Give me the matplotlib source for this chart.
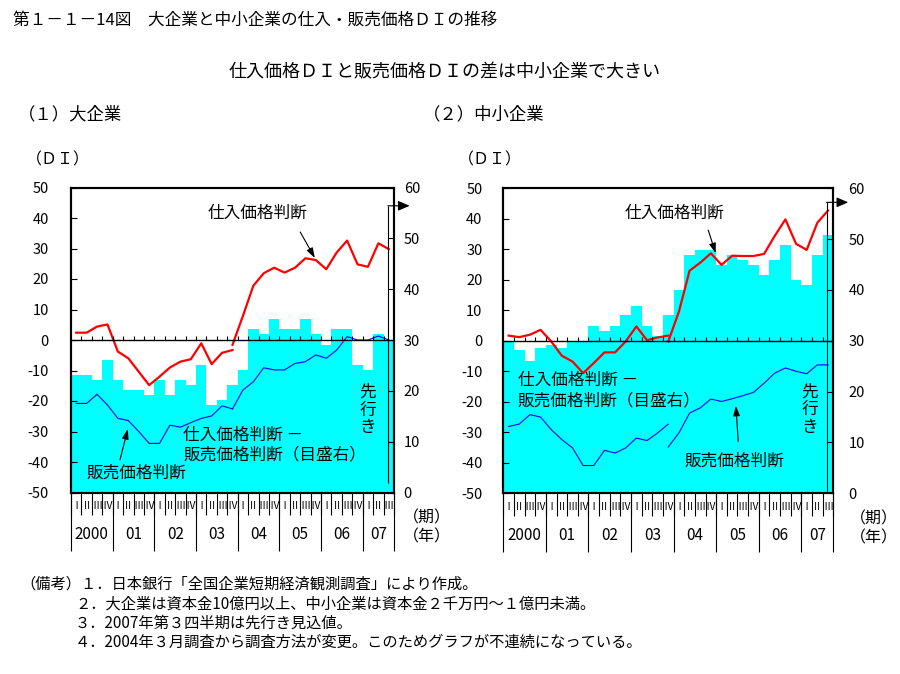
import matplotlib
matplotlib.use('Agg')
import matplotlib.pyplot as plt
import numpy as np

plt.rcParams['font.family'] = ['Noto Sans CJK JP', 'DejaVu Sans']
plt.rcParams['axes.unicode_minus'] = False

#### DATA ####
# 2000 Q1 ... 2007 Q3 (31 quarters); survey method changed from 2003 Q4 on
years = ['2000', '01', '02', '03', '04', '05', '06', '07']
year_quarters = [4, 4, 4, 4, 4, 4, 4, 3]
quarter_names = ['Ⅰ', 'Ⅱ', 'Ⅲ', 'Ⅳ']

# large firms
large_buy_old = [2.4, 2.4, 4.4, 5.1, -3.8, -6.0, -10.4, -14.8, -12.0, -9.0, -7.1, -6.3, -1.1, -7.9, -4.2, -3.3]
large_buy_new = [-1.6, 7.9, 17.8, 21.9, 23.7, 22.1, 23.7, 26.8, 26.2, 23.2, 28.7, 32.6, 24.8, 24.0, 31.7, 29.8]
large_sell_old = [-20.8, -20.8, -17.8, -21.3, -25.7, -26.4, -30.0, -33.9, -33.9, -27.9, -28.6, -27.1, -25.7, -24.9, -21.6, -22.6]
large_sell_new = [-22.6, -16.4, -13.7, -9.1, -9.8, -9.8, -7.7, -7.1, -4.9, -6.0, -3.3, 1.1, 0.0, 0.0, 1.3, 0.0]
large_gap = [23.1, 23.1, 22.1, 26.0, 22.1, 20.2, 20.2, 19.2, 22.1, 19.2, 22.1, 21.1, 25.1, 17.2, 18.2, 21.1,
             24.1, 32.2, 31.2, 34.1, 32.2, 32.2, 34.1, 31.2, 29.0, 32.2, 32.2, 25.1, 24.1, 31.2, 30.0]

# small and medium firms
small_buy_old = [1.7, 1.2, 2.0, 3.6, -0.2, -4.9, -6.8, -10.6, -7.3, -3.8, -3.8, -0.2, 4.7, 0.2, 1.1, 1.7]
small_buy_new = [-0.2, 9.6, 23.0, 25.6, 28.7, 24.9, 27.9, 27.8, 27.8, 28.5, 34.4, 39.8, 31.8, 29.8, 38.7, 42.7]
small_sell_old = [-28.1, -27.3, -24.2, -25.0, -29.1, -32.4, -35.1, -40.9, -40.9, -35.9, -36.8, -35.1, -31.9, -32.7, -30.2, -27.3]
small_sell_new = [-34.8, -30.2, -23.7, -22.0, -19.1, -19.9, -19.0, -18.0, -16.9, -13.9, -10.6, -8.9, -10.0, -10.8, -7.9, -7.9]
small_gap = [29.8, 28.2, 26.1, 28.6, 29.2, 28.5, 29.7, 30.0, 33.0, 32.0, 33.0, 35.0, 36.9, 33.0, 31.0, 35.0,
             40.0, 46.9, 47.9, 47.9, 44.9, 46.9, 45.9, 44.9, 43.0, 45.9, 48.9, 42.0, 41.0, 46.9, 50.8]

left_ticks = [50, 40, 30, 20, 10, 0, -10, -20, -30, -40, -50]
right_ticks = [0, 10, 20, 30, 40, 50, 60]

title = '第１－１－14図　大企業と中小企業の仕入・販売価格ＤＩの推移'
subtitle = '仕入価格ＤＩと販売価格ＤＩの差は中小企業で大きい'
notes = ['（備考）１．日本銀行「全国企業短期経済観測調査」により作成。',
         '２．大企業は資本金10億円以上、中小企業は資本金２千万円～１億円未満。',
         '３．2007年第３四半期は先行き見込値。',
         '４．2004年３月調査から調査方法が変更。このためグラフが不連続になっている。']

CYAN = '#00FFFF'
W, H = 900, 674

fig = plt.figure(figsize=(9, 6.74), dpi=100)


def fx(x):
    return x / W


def fy(y):
    return 1 - y / H


def panel(rect, buy_old, buy_new, sell_old, sell_new, gap, ann, lpad, rpad):
    ax = fig.add_axes(rect)
    ax2 = ax.twinx()
    ax.set_zorder(ax2.get_zorder() + 1)
    ax.patch.set_visible(False)

    n = len(gap)
    x = np.arange(n)
    ax2.bar(x, gap, width=1.0, color=CYAN, linewidth=0)
    ax2.set_ylim(0, 60)
    ax2.set_yticks(right_ticks)

    xo = x[:len(buy_old)]
    xn = x[n - len(buy_new):]
    ax.plot(xo, buy_old, color='#FF0000', lw=1.6)
    ax.plot(xn, buy_new, color='#FF0000', lw=1.6)
    ax.plot(xo, sell_old, color='#0000FF', lw=0.8)
    ax.plot(x[n - len(sell_new):], sell_new, color='#0000FF', lw=0.8)

    ax.set_xlim(-0.5, n - 0.5)
    ax2.set_xlim(-0.5, n - 0.5)
    ax.set_ylim(-50, 50)
    ax.set_yticks(left_ticks)
    ax.set_xticks([])

    # zero line with quarter ticks
    ax.axhline(0, color='k', lw=1.0)
    bounds = np.arange(n - 1) + 0.5
    ax.vlines(bounds, 0, 1.3, color='k', lw=0.8)

    for a in (ax, ax2):
        for s in a.spines.values():
            s.set_linewidth(1.5)
    ax.tick_params(axis='y', direction='in', length=4, width=0.8, labelsize=10.5, pad=lpad)
    ax2.tick_params(axis='y', direction='in', length=4, width=0.8, labelsize=10.5, pad=rpad)

    # quarter / year labels below
    tr = ax.get_xaxis_transform()
    allb = np.arange(n + 1) - 0.5
    ax.vlines(allb, -0.074, 0, color='k', lw=0.8, transform=tr, clip_on=False)
    ystart = -0.5
    for yr, nq in zip(years, year_quarters):
        ax.vlines([ystart], -0.192, 0, color='k', lw=0.8, transform=tr, clip_on=False)
        ax.text(ystart + nq / 2, -0.138, yr, transform=tr, ha='center', va='center', fontsize=11)
        for q in range(nq):
            ax.text(ystart + q + 0.5, -0.044, quarter_names[q], transform=tr,
                    ha='center', va='center', fontsize=7.3)
        ystart += nq
    ax.vlines([ystart], -0.192, 0, color='k', lw=0.8, transform=tr, clip_on=False)

    # forecast bracket
    bx, btop, bbot, tip = ann['bracket']
    ax.vlines([bx], bbot, btop, color='k', lw=0.8)
    ax.annotate('', xy=(tip, btop), xytext=(bx, btop), annotation_clip=False,
                arrowprops=dict(arrowstyle='-|>,head_length=0.7,head_width=0.3', color='k', lw=0.8,
                                shrinkA=0, shrinkB=0))
    ax.text(ann['saki'][0], ann['saki'][1], '先\n行\nき', ha='center', va='center',
            fontsize=12, linespacing=1.05)

    # labels with arrows
    for txt, (tx, ty), (ax0, ay0), (ax1_, ay1) in ann['labels']:
        ax.text(tx, ty, txt, ha='center', va='center', fontsize=12)
        ax.annotate('', xy=(ax1_, ay1), xytext=(ax0, ay0),
                    arrowprops=dict(arrowstyle='-|>,head_length=0.6,head_width=0.2', color='k', lw=0.8,
                                    shrinkA=0, shrinkB=0))
    gx, gy = ann['gap']
    ax.text(gx, gy, '仕入価格判断 －\n販売価格判断（目盛右）', ha='left', va='center',
            fontsize=12, linespacing=1.25)
    return ax


large_ann = {
    'bracket': (29.9, 44.0, -47.0, 32.0),
    'saki': (28.0, -23.0),
    'labels': [('仕入価格判断', (17.35, 41.6), (21.5, 35.4), (22.9, 26.9)),
               ('販売価格判断', (5.8, -43.6), (4.2, -39.3), (4.95, -29.2))],
    'gap': (10.25, -34.5),
}
small_ann = {
    'bracket': (29.87, 45.4, -50.0, 31.9),
    'saki': (28.3, -22.6),
    'labels': [('仕入価格判断', (15.6, 41.9), (18.75, 36.3), (19.45, 28.7)),
               ('販売価格判断', (21.2, -39.6), (21.57, -33.0), (21.35, -21.3))],
    'gap': (0.88, -16.3),
}

ax_l = panel([fx(71), fy(492.5), 323 / W, 305 / H], large_buy_old, large_buy_new,
             large_sell_old, large_sell_new, large_gap, large_ann, 16, 7)
ax_s = panel([fx(503.3), fy(493.3), 330 / W, 305 / H], small_buy_old, small_buy_new,
             small_sell_old, small_sell_new, small_gap, small_ann, 15, 11)

# period / year markers
for ax, x0 in [(ax_l, 1.028), (ax_s, 1.05)]:
    ax.text(x0, -0.084, '（期）', transform=ax.transAxes, ha='left', va='center', fontsize=11.5)
    ax.text(x0, -0.146, '（年）', transform=ax.transAxes, ha='left', va='center', fontsize=11.5)

#### TEXT ####
fig.text(fx(13), fy(20), title, ha='left', va='center', fontsize=12)
fig.text(fx(445), fy(72), subtitle, ha='center', va='center', fontsize=13)
fig.text(fx(18), fy(114), '（１）大企業', ha='left', va='center', fontsize=12.5)
fig.text(fx(423), fy(114), '（２）中小企業', ha='left', va='center', fontsize=12.5)
fig.text(fx(26), fy(160), '（ＤＩ）', ha='left', va='center', fontsize=11.5)
fig.text(fx(458), fy(160), '（ＤＩ）', ha='left', va='center', fontsize=11.5)

fig.text(fx(20), fy(584), notes[0], ha='left', va='center', fontsize=11)
for k, line in enumerate(notes[1:]):
    fig.text(fx(75), fy(604 + 19.3 * k), line, ha='left', va='center', fontsize=11)

fig.savefig('out.png', dpi=100)
